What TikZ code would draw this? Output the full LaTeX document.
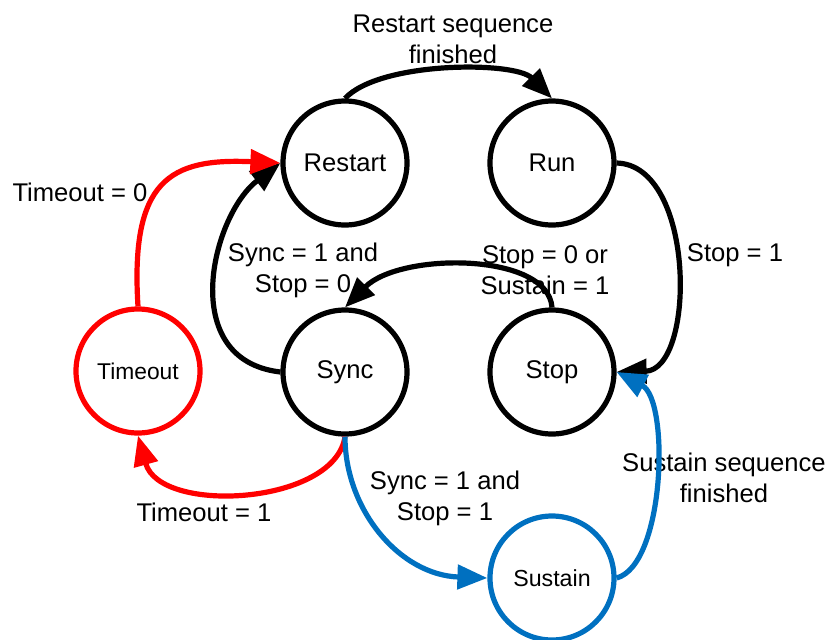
\documentclass[tikz,border=0pt]{standalone}
\usepackage{fontspec}
\setmainfont{Liberation Sans}
\usetikzlibrary{arrows.meta}
\definecolor{tored}{RGB}{255,0,0}
\definecolor{tublue}{RGB}{0,112,192}
\begin{document}
\begin{tikzpicture}[x=0.5pt,y=-0.5pt,
  state/.style={circle,draw,line width=2.6pt,minimum size=62pt,inner sep=0pt,
    font=\fontsize{12.8pt}{15pt}\selectfont},
  small/.style={font=\fontsize{11.4pt}{14pt}\selectfont},
  lbl/.style={align=center,inner sep=0pt,font=\fontsize{12.8pt}{15.5pt}\selectfont},
  trans/.style={line width=2.6pt,-{Triangle[length=15pt,width=12pt]}}]
\useasboundingbox (0,0) rectangle (832,639);

% states
\node[state] (restart) at (345,163) {Restart};
\node[state] (run)     at (552,163) {Run};
\node[state] (sync)    at (345,372) {Sync};
\node[state] (stop)    at (552,372) {Stop};
\node[state,small,draw=tored] (timeout) at (138,371) {Timeout};
\node[state,font=\fontsize{11.6pt}{14pt}\selectfont,draw=tublue] (sustain) at (552,578) {Sustain};

% transition conditions
\node[lbl] (lrestart) at (453,39)  {Restart sequence\\finished};
\node[lbl] (lstop1)   at (735,255) {Stop = 1};
\node[lbl] (lsync0)   at (303,270) {Sync = 1 and\\Stop = 0};
\node[lbl] (lstop0)   at (545,270) {Stop = 0 or\\Sustain = 1};
\node[lbl] (lto0)     at (80,192)  {Timeout = 0};
\node[lbl] (lto1)     at (204,512) {Timeout = 1};
\node[lbl] (lsync1)   at (445,498) {Sync = 1 and\\Stop = 1};
\node[lbl] (lsus)     at (724,478) {Sustain sequence\\finished};

% transitions
\draw[trans] (restart.north) .. controls (380,61) and (515,61) .. (run.north);
\draw[trans] (run.east) .. controls (696,165) and (696,370) .. (stop.east);
\draw[trans] (sync.west) .. controls (176,360) and (212,215) .. (restart.west);
\draw[trans] (stop.north) .. controls (548,252) and (400,252) .. (sync.north);
\draw[trans,tored] (timeout.north) .. controls (130,180) and (170,158) .. (restart.west);
\draw[trans,tored] (sync.south) .. controls (335,505) and (160,515) .. (timeout.south);
\draw[trans,tublue] (sync.south) .. controls (345,510) and (400,575) .. (sustain.west);
\draw[trans,tublue] (sustain.east) .. controls (665,565) and (670,400) .. (stop.east);
\end{tikzpicture}
\end{document}
